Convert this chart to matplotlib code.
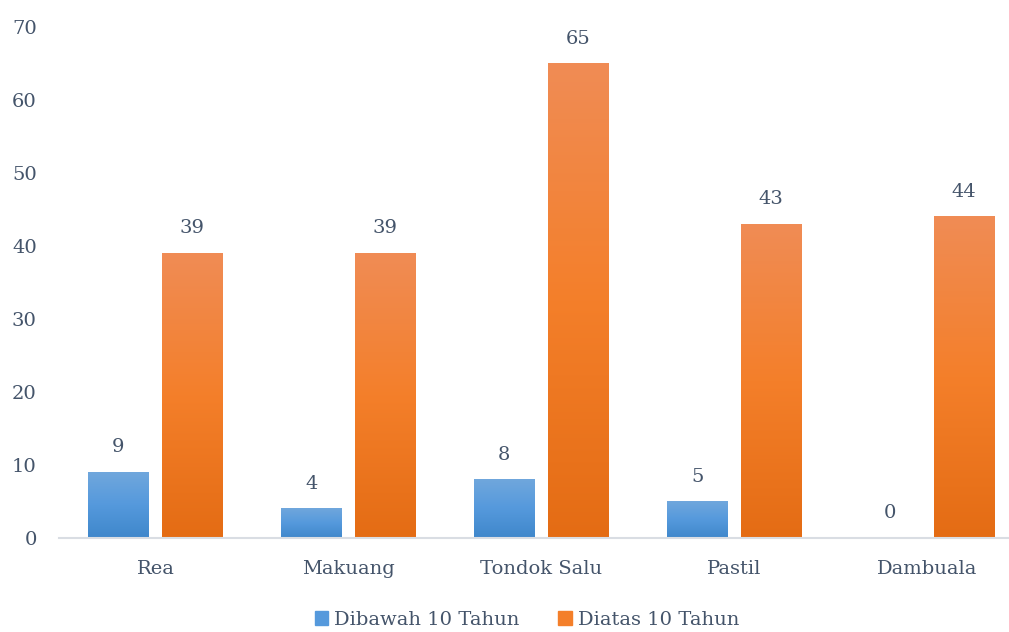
import matplotlib.pyplot as plt
import numpy as np
from matplotlib.colors import LinearSegmentedColormap
from matplotlib.patches import Patch

categories = ["Rea", "Makuang", "Tondok Salu", "Pastil", "Dambuala"]
under10 = [9, 4, 8, 5, 0]
over10 = [39, 39, 65, 43, 44]
seriesNames = ["Dibawah 10 Tahun", "Diatas 10 Tahun"]
yTicks = [0, 10, 20, 30, 40, 50, 60, 70]

textColor = "#44546a"
blueGrad = ["#3f87cb", "#5599dc", "#70a7dd"]  # bottom -> top
orangeGrad = ["#e46c14", "#f47f2a", "#f08c55"]

plt.rcParams["font.family"] = ["DejaVu Serif"]

fig = plt.figure(figsize=(10.09, 6.32), dpi=100)
# plot area runs a bit past the right edge, like the original
ax = fig.add_axes([59 / 1009, 94 / 632, 964.5 / 1009, 511 / 632])

barW = 0.316
offset = 0.192
x = np.arange(len(categories))
gradient = np.linspace(0, 1, 256).reshape(-1, 1)

for vals, grad, shift in [(under10, blueGrad, -offset), (over10, orangeGrad, offset)]:
    cmap = LinearSegmentedColormap.from_list("g", grad)
    for xi, v in zip(x, vals):
        if v > 0:
            ax.imshow(gradient, cmap=cmap, origin="lower", aspect="auto",
                      extent=[xi + shift - barW / 2, xi + shift + barW / 2, 0, v], zorder=2)
        ax.annotate(str(v), xy=(xi + shift, v), xytext=(0, 18), textcoords="offset points",
                    ha="center", va="center", fontsize=14, color=textColor)

ax.set_xlim(-0.5, len(categories) - 0.5)
ax.set_ylim(0, 70)
ax.set_xticks(x)
ax.set_xticklabels(categories)
ax.set_yticks(yTicks)
ax.tick_params(axis="both", length=0, pad=16, labelsize=14, colors=textColor)

for s in ["top", "right", "left"]:
    ax.spines[s].set_visible(False)
ax.spines["bottom"].set_color("#d9dde3")
ax.spines["bottom"].set_linewidth(1.5)

handles = [Patch(color=blueGrad[1], label=seriesNames[0]),
           Patch(color=orangeGrad[1], label=seriesNames[1])]
fig.legend(handles=handles, loc="center", bbox_to_anchor=(527 / 1009, 12 / 632), ncol=2,
           frameon=False, fontsize=14, labelcolor=textColor, handlelength=0.7,
           handleheight=0.7, handletextpad=0.3, columnspacing=2.0)

fig.savefig("out.png", dpi=100)
